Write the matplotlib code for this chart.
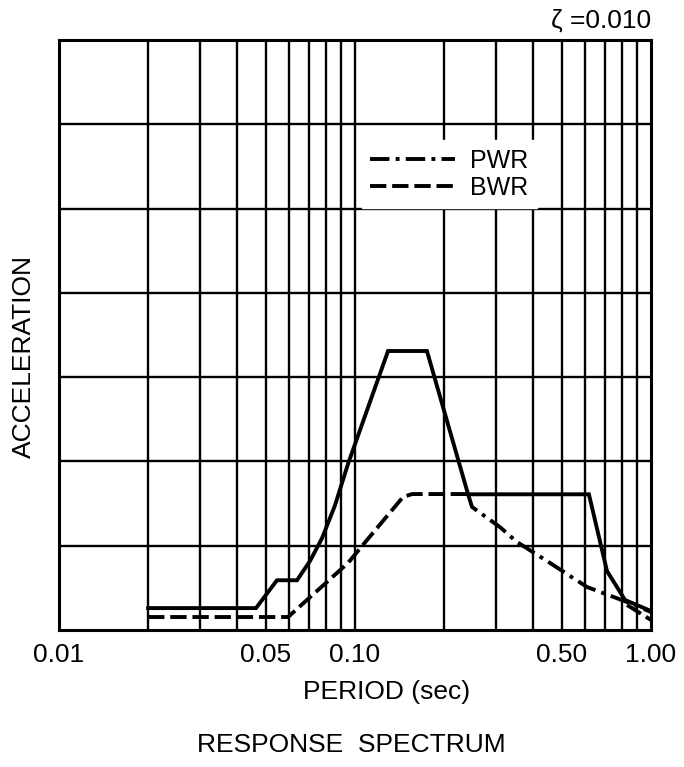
import numpy as np
import matplotlib
matplotlib.use("Agg")
import matplotlib.pyplot as plt

plt.rcParams["font.family"] = ["Liberation Sans", "DejaVu Sans"]

# envelope (solid, not in legend)
env_period = [0.020, 0.0463, 0.0545, 0.0637, 0.0705, 0.0774, 0.0856, 0.0947,
              0.1293, 0.175, 0.241, 0.617, 0.710, 0.817, 1.00]
env_acc = [0.26, 0.26, 0.59, 0.59, 0.82, 1.09, 1.48, 1.97,
           3.31, 3.31, 1.61, 1.61, 0.70, 0.356, 0.225]

# PWR (dash-dot)
pwr_period = [0.241, 0.2485, 0.309, 0.3526, 0.456, 0.608, 0.830, 1.00]
pwr_acc = [1.61, 1.46, 1.22, 1.044, 0.795, 0.510, 0.332, 0.214]

# BWR (dashed), break where it runs on top of the PWR curve
bwr_period = [0.020, 0.0594, 0.0947, 0.1098, 0.1453, 0.156, 0.241, np.nan, 0.830, 1.00]
bwr_acc = [0.154, 0.154, 0.795, 1.068, 1.578, 1.613, 1.613, np.nan, 0.297, 0.119]

xticks = [0.01, 0.05, 0.10, 0.50, 1.00]
xtick_labels = ["0.01", "0.05", "0.10", "0.50", "1.00"]

DASHDOT = (0, (5, 1.6, 1, 1.6))
DASHED = (0, (4.2, 1.5))

fig = plt.figure(figsize=(6.84, 7.67), dpi=100)
ax = fig.add_axes([59 / 684, 137 / 767, 592 / 684, 590 / 767])

ax.set_xscale("log")
ax.set_xlim(0.01, 1.0)
ax.set_ylim(0, 7)

# grid
for v in list(np.arange(2, 10) * 0.01) + [0.1] + list(np.arange(2, 10) * 0.1):
    ax.axvline(v, color="black", lw=1.7, zorder=1)
for h in range(1, 7):
    ax.axhline(h, color="black", lw=1.7, zorder=1)

ax.plot(env_period, env_acc, color="black", lw=2.8, solid_joinstyle="miter", zorder=3)
ax.plot(pwr_period, pwr_acc, color="black", lw=2.8, linestyle=DASHDOT, zorder=3)
ax.plot(bwr_period, bwr_acc, color="black", lw=2.8, linestyle=DASHED, zorder=3)

leg = ax.legend(
    handles=[
        plt.Line2D([], [], color="black", lw=2.8, linestyle=DASHDOT),
        plt.Line2D([], [], color="black", lw=2.8, linestyle=DASHED),
    ],
    labels=["PWR", "BWR"],
    loc="upper left",
    bbox_to_anchor=(0.49, 0.852),
    frameon=True,
    fancybox=False,
    edgecolor="white",
    facecolor="white",
    framealpha=1,
    fontsize=18,
    handlelength=3.4,
    handletextpad=0.6,
    labelspacing=0.12,
    borderpad=0.35,
)
leg.set_zorder(5)

for sp in ax.spines.values():
    sp.set_linewidth(2.2)

ax.set_yticks([])
ax.minorticks_off()
ax.set_xticks(xticks)
ax.set_xticklabels(xtick_labels, fontsize=19)
ax.tick_params(axis="x", length=0, pad=9)

fig.text(24 / 684, 1 - 357 / 767, "ACCELERATION", rotation=90, ha="center", va="center", fontsize=19)
fig.text(387 / 684, 1 - 692 / 767, "PERIOD (sec)", ha="center", va="center", fontsize=19)
fig.text(351 / 684, 1 - 745 / 767, "RESPONSE  SPECTRUM", ha="center", va="center", fontsize=19)
fig.text(651 / 684, 1 - 21 / 767, "ζ =0.010", ha="right", va="center", fontsize=19)

fig.savefig("out.png", dpi=100)
